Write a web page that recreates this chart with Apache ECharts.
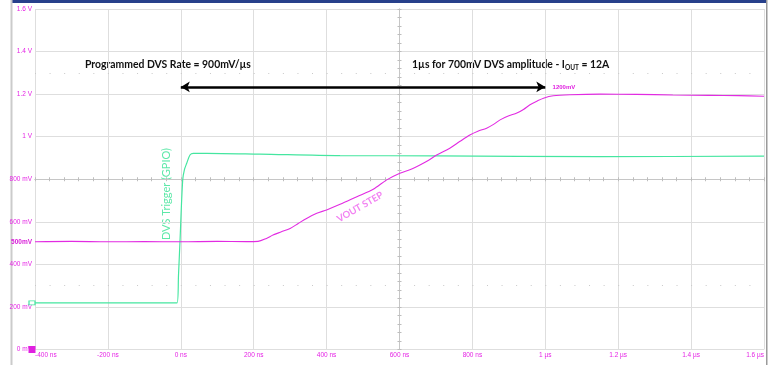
<!DOCTYPE html>
<html>
<head>
<meta charset="utf-8">
<script src="https://cdn.jsdelivr.net/npm/echarts@6/dist/echarts.min.js"></script>
<style>
  html, body { margin: 0; padding: 0; background: #ffffff; }
  #chart { width: 773px; height: 365px; }
</style>
</head>
<body>
<div id="chart"></div>
<script>
// Time base in ns, amplitude in V
const xTickLabels = ['-400 ns', '-200 ns', '0 ns', '200 ns', '400 ns', '600 ns', '800 ns', '1 µs', '1.2 µs', '1.4 µs', '1.6 µs'];
const yTickLabels = ['0 mV', '200 mV', '400 mV', '600 mV', '800 mV', '1 V', '1.2 V', '1.4 V', '1.6 V'];

// VOUT step (magenta channel)
const voutTime = [-400, -300, -200, -100, 0, 100, 180, 212, 235, 253, 276, 300, 322, 345, 373, 400, 437, 483, 528, 565,
                  601, 630, 656, 680, 702, 738, 765, 793, 815, 839, 858, 876, 900, 922, 940, 958, 978, 995, 1022, 1068,
                  1150, 1250, 1350, 1450, 1530, 1600];
const voutValues = [0.506, 0.508, 0.506, 0.507, 0.506, 0.508, 0.507, 0.508, 0.522, 0.538, 0.553, 0.569, 0.592, 0.616, 0.640, 0.656, 0.682, 0.718, 0.753, 0.797,
                    0.828, 0.846, 0.867, 0.889, 0.914, 0.946, 0.977, 1.008, 1.026, 1.040, 1.058, 1.079, 1.098, 1.111, 1.128, 1.150, 1.168, 1.181, 1.192, 1.197,
                    1.200, 1.199, 1.196, 1.194, 1.193, 1.190];

// DVS trigger GPIO (green channel)
const gpioTime = [-400, -200, -10.4, -6.3, -2.2, 5.2, 10, 16.2, 25.2, 34.3, 71, 217, 437, 700, 1150, 1600];
const gpioValues = [0.219, 0.219, 0.219, 0.35, 0.51, 0.797, 0.845, 0.875, 0.914, 0.922, 0.922, 0.918, 0.911, 0.910, 0.906, 0.909];

// Annotation levels
const rateArrow = { from: 0, to: 1000, level: 1.234 };
const offsetLevel = 0.5;
const finalLevel = 1.2;

const MAG = '#e22be2';
const GRN = '#45e6a0';
const TICK = '#e524e5';

const zip = (a, b) => a.map((v, i) => [v, b[i]]);

const chart = echarts.init(document.getElementById('chart'), null, { renderer: 'canvas' });

const gridTop = 9, gridBottom = 15.5, gridLeft = 35, gridRight = 9;
const gridH = 365 - gridTop - gridBottom;
const gridW = 773 - gridLeft - gridRight;

// crosshair axes through screen centre (600 ns / 800 mV) carrying the fine graticule ticks
const centreX = (inside) => ({
  type: 'value', min: -400, max: 1600, interval: 40, position: 'bottom', offset: -gridH / 2,
  axisLine: { show: true, onZero: false, lineStyle: { color: '#c6c6c6', width: 1 } },
  axisTick: { show: true, inside: inside, length: 2, lineStyle: { color: '#bdbdbd' } },
  axisLabel: { show: false }, splitLine: { show: false }
});
const centreY = (inside) => ({
  type: 'value', min: 0, max: 1.6, interval: 0.04, position: 'left', offset: -gridW / 2,
  axisLine: { show: true, onZero: false, lineStyle: { color: '#c6c6c6', width: 1 } },
  axisTick: { show: true, inside: inside, length: 2, lineStyle: { color: '#bdbdbd' } },
  axisLabel: { show: false }, splitLine: { show: false }
});

const option = {
  animation: false,
  backgroundColor: '#ffffff',
  grid: { left: gridLeft, right: gridRight, top: gridTop, bottom: gridBottom },
  xAxis: [
    {
      type: 'value', min: -400, max: 1600, interval: 200,
      axisLine: { show: false }, axisTick: { show: false },
      axisLabel: {
        color: TICK, fontSize: 6.5, fontFamily: 'Liberation Sans', margin: 2,
        alignMinLabel: 'left', alignMaxLabel: 'right',
        formatter: (v) => xTickLabels[Math.round((v + 400) / 200)]
      },
      splitLine: { show: true, lineStyle: { color: '#dedede', width: 1 } }
    },
    centreX(false), centreX(true)
  ],
  yAxis: [
    {
      type: 'value', min: 0, max: 1.6, interval: 0.2,
      axisLine: { show: false }, axisTick: { show: false },
      axisLabel: {
        color: TICK, fontSize: 6.5, fontFamily: 'Liberation Sans', margin: 3,
        formatter: (v) => yTickLabels[Math.round(v / 0.2)]
      },
      splitLine: { show: true, lineStyle: { color: '#dedede', width: 1 } }
    },
    centreY(false), centreY(true)
  ],
  series: [
    {
      name: 'GPIO', type: 'line', data: zip(gpioTime, gpioValues),
      showSymbol: false, smooth: 0.3,
      lineStyle: { color: GRN, width: 1.2 },
      z: 3,
      markLine: {
        silent: true, symbol: 'none', label: { show: false },
        lineStyle: { color: '#c9c9c9', width: 1, type: [1, 13.58] },
        data: [{ yAxis: 1.3 }, { yAxis: 0.3 }]
      },
      markPoint: {
        silent: true,
        data: [{
          coord: [-400, gpioValues[0]], symbol: 'rect', symbolSize: [6, 4], symbolOffset: [-3, 0],
          itemStyle: { color: '#ffffff', borderColor: GRN, borderWidth: 1 }, label: { show: false }
        }]
      }
    },
    {
      name: 'VOUT', type: 'line', data: zip(voutTime, voutValues),
      showSymbol: false, smooth: 0.3,
      lineStyle: { color: MAG, width: 1.1 },
      z: 4,
      markLine: {
        silent: true, symbol: ['arrow', 'arrow'], symbolSize: [8, 9],
        label: { show: false },
        lineStyle: { color: '#000000', width: 2.6, type: 'solid' },
        data: [[{ coord: [rateArrow.from, rateArrow.level] }, { coord: [rateArrow.to, rateArrow.level] }]]
      },
      markPoint: {
        silent: true,
        data: [
          {
            coord: [-400, offsetLevel], symbol: 'rect', symbolSize: 0,
            label: { show: true, position: 'left', distance: 3, offset: [0, -1], formatter: Math.round(offsetLevel * 1000) + 'mV',
                     color: '#d81bd8', fontSize: 6.5, fontWeight: 'bold', fontFamily: 'Liberation Sans' }
          },
          {
            coord: [1020, rateArrow.level], symbol: 'rect', symbolSize: 0,
            label: { show: true, position: 'right', distance: 0, formatter: Math.round(finalLevel * 1000) + 'mV',
                     color: '#e020e0', fontSize: 6, fontWeight: 'bold', fontFamily: 'Liberation Sans' }
          },
          {
            coord: [-400, 0], symbol: 'rect', symbolSize: [7, 7], symbolOffset: [-3, 0],
            itemStyle: { color: '#e020e0' }, label: { show: false }
          }
        ]
      }
    }
  ],
  graphic: [
    { type: 'rect', silent: true, shape: { x: 11, y: 0, width: 755, height: 3 }, style: { fill: '#27408b' } },
    { type: 'rect', silent: true, shape: { x: 10.5, y: 0, width: 2, height: 365 }, style: { fill: '#cbcbcb' } },
    { type: 'rect', silent: true, shape: { x: 766, y: 0, width: 1.5, height: 365 }, style: { fill: '#9a9a9a' } },
    {
      type: 'text', silent: true, x: 85, y: 65,
      style: { text: 'Programmed DVS Rate = 900mV/µs', fill: '#111111', fontFamily: 'Lato', fontWeight: 'bold', fontSize: 10.4,
               verticalAlign: 'middle' }
    },
    {
      type: 'text', silent: true, x: 412, y: 65,
      style: {
        text: '1µs for 700mV DVS amplitude - I{sub|OUT} = 12A', fill: '#111111', fontFamily: 'Lato', fontWeight: 'bold', fontSize: 10.4,
        verticalAlign: 'middle',
        rich: { sub: { fontFamily: 'Lato', fontWeight: 'bold', fontSize: 6.5, fill: '#111111', padding: [5, 0, 0, 0] } }
      }
    },
    {
      type: 'text', silent: true, x: 166.5, y: 194, rotation: Math.PI / 2,
      style: { text: 'DVS Trigger (GPIO)', fill: '#5ee8a9', fontFamily: 'Lato', fontSize: 11, align: 'center', verticalAlign: 'middle' }
    },
    {
      type: 'text', silent: true, x: 360, y: 207, rotation: 0.52,
      style: { text: 'VOUT STEP', fill: '#f283f2', fontFamily: 'Lato', fontWeight: 'bold', fontSize: 9.5, align: 'center', verticalAlign: 'middle' }
    }
  ]
};

chart.setOption(option);
</script>
</body>
</html>
